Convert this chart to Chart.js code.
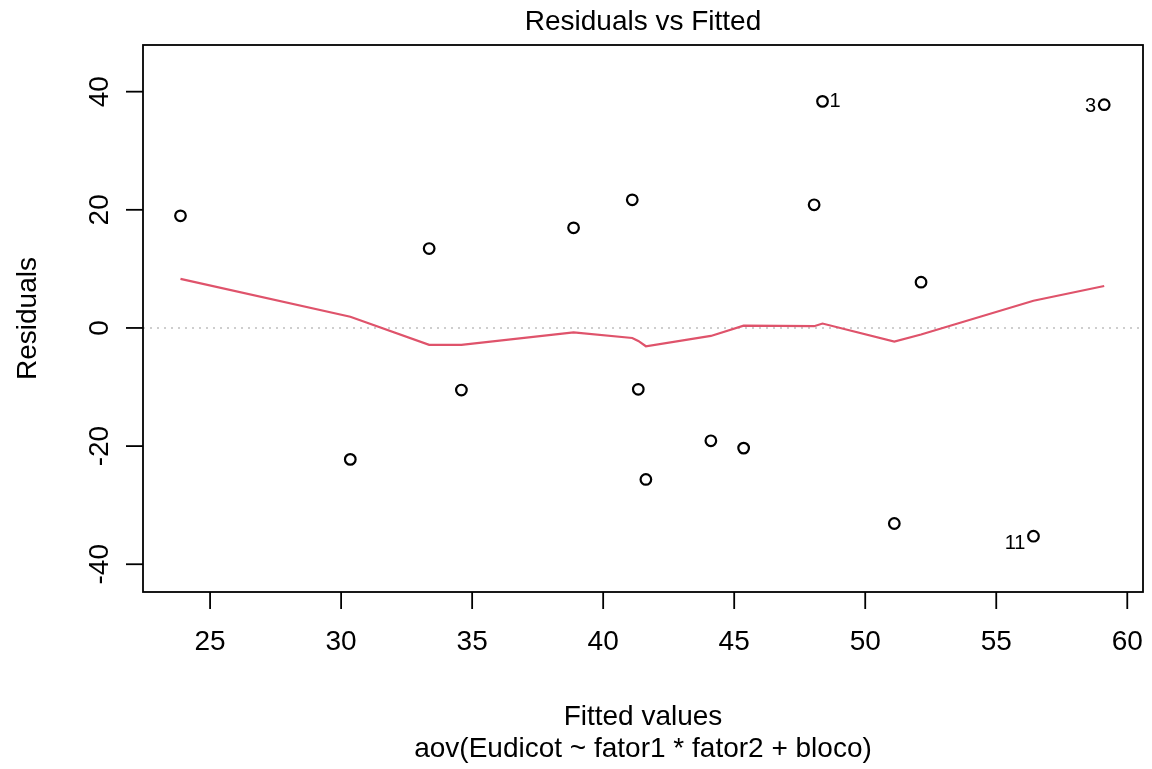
<!DOCTYPE html>
<html>
<head>
  <meta charset="utf-8">
  <title>Residuals vs Fitted</title>
  <script src="https://cdn.jsdelivr.net/npm/chart.js@4.4.0/dist/chart.umd.min.js"></script>
  <style>
    body { margin: 0; background: #fff; }
    canvas { display: block; }
  </style>
</head>
<body>
  <canvas id="chartEl" width="1152" height="769"></canvas>

  <script>
    // fitted values and residuals of the aov model, one entry per observation
    const fittedVals = [23.87, 30.35, 33.36, 34.59, 38.87, 41.11, 41.34, 41.63, 44.11, 45.36, 48.05, 48.37, 51.11, 52.13, 56.42, 59.12];
    const residVals = [18.98, -22.25, 13.44, -10.51, 16.95, 21.69, -10.39, -25.64, -19.10, -20.34, 20.85, 38.36, -33.10, 7.75, -35.25, 37.80];
    // lowess smoother evaluated at the fitted values
    const smoothVals = [8.3, 1.9, -2.85, -2.85, -0.75, -1.7, -2.2, -3.1, -1.35, 0.4, 0.3, 0.75, -2.3, -1.1, 4.6, 7.1];

    // observations flagged with their ids (index -> label, side)
    const idIndex = [11, 14, 15];
    const idText = ["1", "11", "3"];
    const idSide = ["right", "left", "left"];

    const xTicks = [25, 30, 35, 40, 45, 50, 55, 60];
    const yTicks = [-40, -20, 0, 20, 40];
    const xRange = [22.44, 60.6];
    const yRange = [-44.7, 47.9];

    const mainTitle = "Residuals vs Fitted";
    const xTitle = "Fitted values";
    const subTitle = "aov(Eudicot ~ fator1 * fator2 + bloco)";
    const yTitle = "Residuals";

    const fontFamily = '"Liberation Sans", Arial, sans-serif';

    // R-style frame: box, outward ticks, rotated y labels, titles, id labels
    const rFramePlugin = {
      id: 'rFrame',
      beforeDatasetsDraw(chart) {
        let {ctx, chartArea: a, scales: {y}} = chart;
        let y0 = y.getPixelForValue(0);
        ctx.save();
        ctx.strokeStyle = '#bebebe';
        ctx.lineWidth = 1.5;
        ctx.setLineDash([2, 5]);
        ctx.beginPath();
        ctx.moveTo(a.left, y0);
        ctx.lineTo(a.right, y0);
        ctx.stroke();
        ctx.restore();
      },
      afterDraw(chart) {
        let {ctx, chartArea: a, scales: {x, y}} = chart;
        ctx.save();
        ctx.strokeStyle = '#000';
        ctx.lineWidth = 1.8;
        ctx.strokeRect(a.left, a.top, a.right - a.left, a.bottom - a.top);

        ctx.fillStyle = '#000';
        ctx.font = `28px ${fontFamily}`;

        // x axis
        ctx.textAlign = 'center';
        ctx.textBaseline = 'alphabetic';
        for(let v of xTicks) {
          let px = x.getPixelForValue(v);
          ctx.beginPath();
          ctx.moveTo(px, a.bottom);
          ctx.lineTo(px, a.bottom + 17);
          ctx.stroke();
          ctx.fillText(String(v), px, a.bottom + 58);
        }

        // y axis, labels read bottom to top
        for(let v of yTicks) {
          let py = y.getPixelForValue(v);
          ctx.beginPath();
          ctx.moveTo(a.left, py);
          ctx.lineTo(a.left - 17, py);
          ctx.stroke();
          ctx.save();
          ctx.translate(a.left - 35, py);
          ctx.rotate(-Math.PI / 2);
          ctx.fillText(String(v), 0, 0);
          ctx.restore();
        }

        let cx = (a.left + a.right) / 2;
        ctx.fillText(mainTitle, cx, 30);
        ctx.fillText(xTitle, cx, 725);
        ctx.fillText(subTitle, cx, 757);

        ctx.save();
        ctx.translate(36, (a.top + a.bottom) / 2);
        ctx.rotate(-Math.PI / 2);
        ctx.fillText(yTitle, 0, 0);
        ctx.restore();

        // id labels next to the flagged points
        ctx.font = `20px ${fontFamily}`;
        ctx.textBaseline = 'middle';
        idIndex.forEach((idx, i) => {
          let px = x.getPixelForValue(fittedVals[idx]);
          let py = y.getPixelForValue(residVals[idx]);
          if(idSide[i] === 'right') {
            ctx.textAlign = 'left';
            ctx.fillText(idText[i], px + 7, py);
          } else {
            ctx.textAlign = 'right';
            ctx.fillText(idText[i], px - 8, py + (idText[i] === '11' ? 7 : 2));
          }
        });
        ctx.restore();
      }
    };

    new Chart(chartEl, {
      data: {
        datasets: [
          {
            type: 'line',
            data: fittedVals.map((v, i) => ({x: v, y: smoothVals[i]})),
            borderColor: '#DF536B',
            borderWidth: 2.2,
            pointRadius: 0,
            tension: 0,
            fill: false
          },
          {
            type: 'scatter',
            data: fittedVals.map((v, i) => ({x: v, y: residVals[i]})),
            pointStyle: 'circle',
            pointRadius: 5.3,
            borderWidth: 2.2,
            borderColor: '#000',
            backgroundColor: 'rgba(0,0,0,0)'
          }
        ]
      },
      options: {
        responsive: false,
        animation: false,
        layout: {
          padding: {left: 143, right: 9, top: 45, bottom: 177}
        },
        scales: {
          x: {type: 'linear', display: false, min: xRange[0], max: xRange[1]},
          y: {type: 'linear', display: false, min: yRange[0], max: yRange[1]}
        },
        plugins: {
          legend: {display: false},
          tooltip: {enabled: false}
        }
      },
      plugins: [rFramePlugin]
    });
  </script>
</body>
</html>
